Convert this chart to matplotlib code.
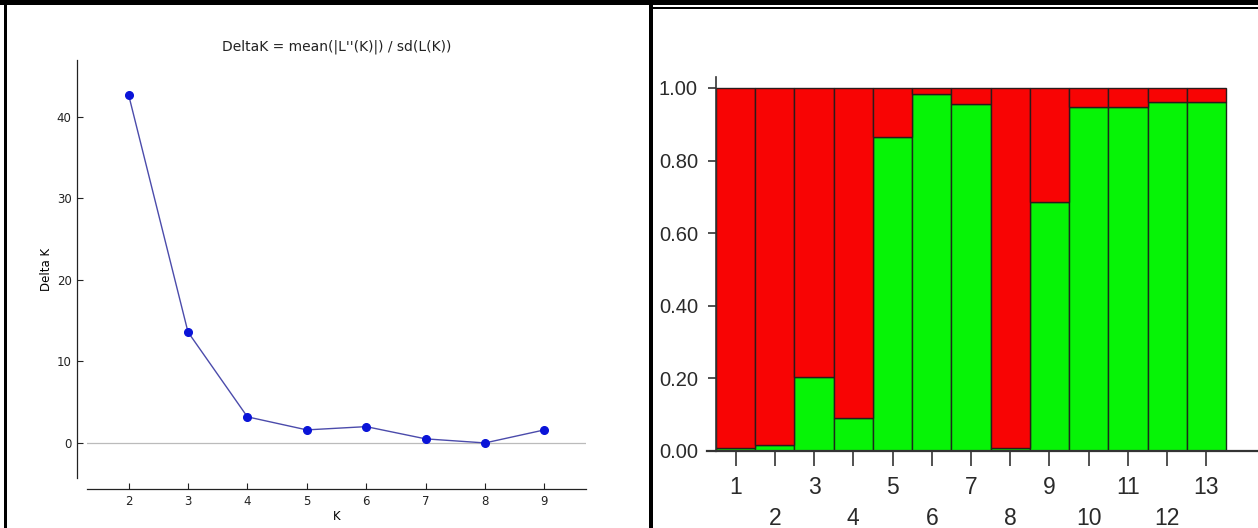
import numpy as np
import matplotlib
matplotlib.use('Agg')
import matplotlib.pyplot as plt
from matplotlib.patches import Rectangle

# left panel: Evanno delta K
k_values = [2, 3, 4, 5, 6, 7, 8, 9]
delta_k = [42.7, 13.6, 3.2, 1.6, 2.0, 0.5, 0.0, 1.6]

# right panel: structure bar plot (two clusters)
pop_labels = [str(i) for i in range(1, 14)]
green_frac = [0.009, 0.017, 0.205, 0.09, 0.864, 0.982, 0.955,
              0.009, 0.686, 0.947, 0.947, 0.962, 0.962]
red_frac = [1 - g for g in green_frac]
y_ticks = [0.0, 0.2, 0.4, 0.6, 0.8, 1.0]

W, H = 1258, 528
fig = plt.figure(figsize=(W / 100, H / 100), dpi=100)
fig.patch.set_facecolor('white')


def box(x0, y0, x1, y1):
    # pixel box (top-left origin) -> figure fraction rect
    return [x0 / W, 1 - y1 / H, (x1 - x0) / W, (y1 - y0) / H]


def frame(x0, y0, x1, y1):
    l, b, w, h = box(x0, y0, x1, y1)
    fig.patches.append(Rectangle((l, b), w, h, transform=fig.transFigure,
                                 facecolor='black', edgecolor='none', zorder=10))


# black frame pieces
frame(0, 0, W, 5)
frame(653, 7, W, 9)
frame(4, 5, 7, H)
frame(649, 5, 653, H)

# ---- left chart ----
ax1 = fig.add_axes(box(87, 60.5, 586, 478))
ax1.plot(k_values, delta_k, color='#4b4bab', lw=1.0, zorder=3)
ax1.plot(k_values, delta_k, 'o', color='#0a14d8', ms=5.5, mec='#0a14d8', zorder=4)
ax1.axhline(0, color='#bbbbbb', lw=0.9, zorder=1)
ax1.set_xlim(1.3, 9.7)
ax1.set_ylim(-4.3, 46.9)
ax1.set_xticks(k_values)
ax1.set_yticks([0, 10, 20, 30, 40])
for s in ['top', 'right']:
    ax1.spines[s].set_visible(False)
ax1.spines['left'].set_position(('outward', 7))
ax1.spines['bottom'].set_position(('outward', 8))
for s in ['left', 'bottom']:
    ax1.spines[s].set_linewidth(0.9)
    ax1.spines[s].set_color('#222222')
ax1.tick_params(direction='in', length=4, width=0.8, labelsize=8.5, colors='#222222', pad=4)
ax1.set_xlabel('K', fontsize=8.5, labelpad=2)
ax1.set_ylabel('Delta K', fontsize=8.5, labelpad=3)
ax1.set_title("DeltaK = mean(|L''(K)|) / sd(L(K))", fontsize=10, pad=7, color='#222222')

# ---- right chart ----
sans = ['Liberation Sans', 'DejaVu Sans']
ax2 = fig.add_axes(box(716, 77, W, 451))
x = np.arange(len(pop_labels))
ax2.bar(x, green_frac, width=1.0, color='#06f406', edgecolor='#1b2b1b', lw=1.0, zorder=2)
ax2.bar(x, red_frac, width=1.0, bottom=green_frac, color='#f80404', edgecolor='#2b1b1b',
        lw=1.0, zorder=2)
ax2.set_xlim(-0.5, 12.5 + 32 / 39.2)
ax2.set_ylim(0, 1.03)
for s in ['top', 'right']:
    ax2.spines[s].set_visible(False)
ax2.spines['left'].set_color('#333333')
ax2.spines['left'].set_linewidth(1.2)
ax2.spines['bottom'].set_color('#333333')
ax2.spines['bottom'].set_linewidth(1.6)
ax2.plot([-9 / 542, 0], [0, 0], transform=ax2.transAxes, color='#333333', lw=1.6,
         clip_on=False)
ax2.set_yticks(y_ticks)
ax2.set_yticklabels(['%.2f' % v for v in y_ticks], family=sans, fontsize=14.5,
                    color='#2a2a2a')
ax2.set_xticks(x)
ax2.set_xticklabels(pop_labels, family=sans, fontsize=16.5, color='#2a2a2a')
ax2.tick_params(axis='y', direction='out', length=6, width=1.2, color='#333333', pad=7)
ax2.tick_params(axis='x', direction='out', length=11, width=1.2, color='#333333', pad=7)
for i, t in enumerate(ax2.xaxis.get_major_ticks()):
    if i % 2 == 1:
        t.set_pad(29)

fig.savefig('out.png', dpi=100, facecolor='white')
